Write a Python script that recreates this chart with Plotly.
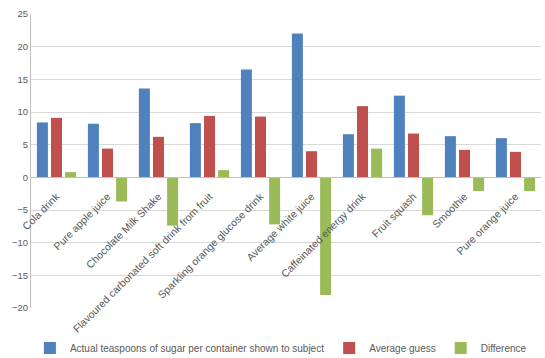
import plotly.graph_objects as go

categories = [
    "Cola drink",
    "Pure apple juice",
    "Chocolate Milk Shake",
    "Flavoured carbonated soft drink from fruit",
    "Sparkling orange glucose drink",
    "Average white juice",
    "Caffeinated energy drink",
    "Fruit squash",
    "Smoothie",
    "Pure orange juice",
]
actual = [8.4, 8.2, 13.6, 8.3, 16.5, 22.0, 6.6, 12.5, 6.3, 6.0]
guess = [9.1, 4.4, 6.2, 9.4, 9.3, 4.0, 10.9, 6.7, 4.2, 3.9]
difference = [0.8, -3.7, -7.4, 1.1, -7.2, -18.0, 4.4, -5.8, -2.1, -2.1]

series_names = [
    "Actual teaspoons of sugar per container shown to subject",
    "Average guess",
    "Difference",
]
colors = ["#4F81BD", "#C0504D", "#9BBB59"]

fig = go.Figure()
for name, vals, col in zip(series_names, [actual, guess, difference], colors):
    fig.add_trace(go.Bar(x=categories, y=vals, name=name, marker_color=col,
                         marker_line_width=0))

ymin, ymax = -20, 25
fig.update_layout(
    width=545, height=358,
    margin=dict(l=31, r=4, t=14, b=50, autoexpand=False),
    paper_bgcolor="white", plot_bgcolor="white",
    barmode="group", bargap=0.17, bargroupgap=0.22,
    font=dict(family="Liberation Sans, Arial, sans-serif", color="#595959", size=9),
    showlegend=True,
    legend=dict(orientation="h", x=0.49, xanchor="center", y=-0.136, yanchor="middle",
                font=dict(size=10, color="#595959"), itemwidth=30,
                traceorder="normal"),
    xaxis=dict(
        type="category", range=[-0.5, 9.5], anchor="free",
        position=(0 - ymin) / (ymax - ymin),
        showline=True, linecolor="#bfbfbf", linewidth=1,
        showgrid=False, ticks="", tickangle=-45, automargin=False,
        ticklabelstandoff=8,
        tickfont=dict(size=10.5, color="#595959"),
    ),
    yaxis=dict(
        range=[ymin, ymax], dtick=5, tick0=0,
        showgrid=True, gridcolor="#d9d9d9", gridwidth=1,
        showline=True, linecolor="#bfbfbf", linewidth=1,
        zeroline=False, ticks="", automargin=False,
        tickfont=dict(size=9.5, color="#595959"),
    ),
)

fig.write_html("out.html")
